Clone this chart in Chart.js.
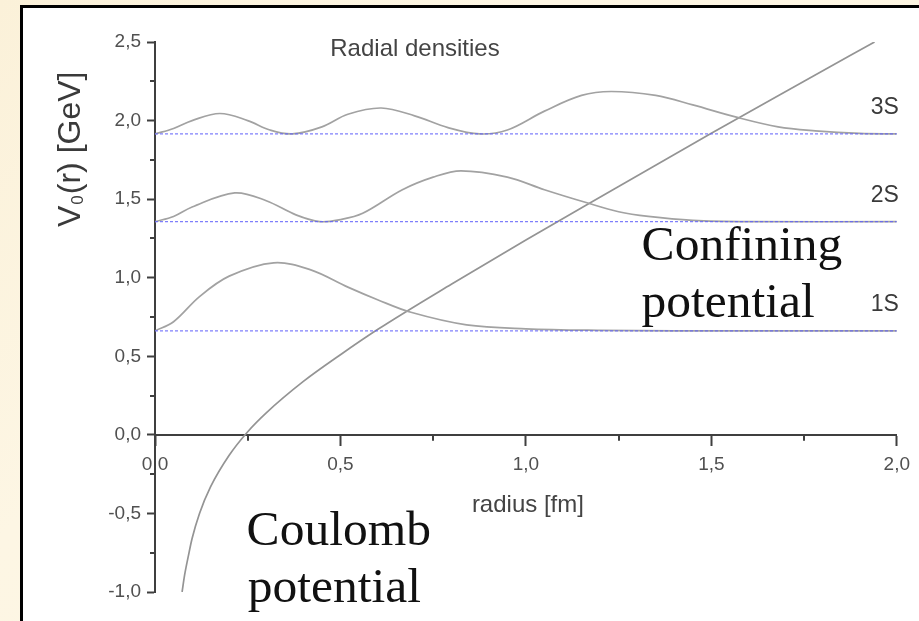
<!DOCTYPE html>
<html>
<head>
<meta charset="utf-8">
<script src="https://cdn.jsdelivr.net/npm/chart.js@4.4.0/dist/chart.umd.min.js"></script>
<style>
  html, body { margin: 0; padding: 0; width: 919px; height: 621px; overflow: hidden; }
  body { position: relative; background: linear-gradient(135deg, #fbf1d9 0%, #fdf6e4 35%, #fdf5e0 100%); }
  #panel { position: absolute; left: 20px; top: 5px; width: 1000px; height: 700px; background: #fff; border: 3px solid #000; }
  #chart { position: absolute; left: 0; top: 0; }
</style>
</head>
<body>
<div id="panel"></div>
<canvas id="chart" width="919" height="621"></canvas>
<script>
/* ================= Data ================= */

// potential V0(r), Coulomb + linear
const potR = [0.073, 0.08, 0.09, 0.10, 0.12, 0.15, 0.20, 0.25, 0.30, 0.40, 0.50, 0.60, 0.80, 1.00, 1.25, 1.50, 1.75, 1.94];
const potV = [-1.00, -0.89, -0.77, -0.66, -0.50, -0.33, -0.13, 0.02, 0.14, 0.34, 0.51, 0.67, 0.96, 1.24, 1.58, 1.92, 2.25, 2.50];

// radial densities, drawn on top of their level
const r1S = [0, 0.05, 0.12, 0.20, 0.32, 0.42, 0.52, 0.60, 0.69, 0.84, 1.00, 1.20, 1.40, 2.00];
const v1S = [0.662, 0.72, 0.88, 1.01, 1.095, 1.05, 0.94, 0.86, 0.78, 0.70, 0.675, 0.665, 0.662, 0.662];

const r2S = [0, 0.05, 0.10, 0.215, 0.30, 0.38, 0.444, 0.50, 0.56, 0.667, 0.75, 0.825, 0.95, 1.05, 1.16, 1.25, 1.33, 1.45, 1.60, 2.00];
const v2S = [1.357, 1.39, 1.45, 1.54, 1.49, 1.40, 1.357, 1.37, 1.41, 1.56, 1.64, 1.68, 1.64, 1.56, 1.48, 1.42, 1.39, 1.365, 1.357, 1.357];

const r3S = [0, 0.05, 0.10, 0.175, 0.25, 0.31, 0.37, 0.45, 0.52, 0.61, 0.70, 0.79, 0.875, 0.95, 1.05, 1.15, 1.23, 1.35, 1.45, 1.57, 1.68, 1.78, 1.90, 2.00];
const v3S = [1.915, 1.95, 2.00, 2.045, 2.00, 1.94, 1.915, 1.96, 2.04, 2.08, 2.03, 1.955, 1.915, 1.94, 2.06, 2.16, 2.185, 2.16, 2.10, 2.02, 1.96, 1.935, 1.918, 1.915];

// energy levels
const levelNames = ['1S', '2S', '3S'];
const levelValues = [0.662, 1.357, 1.915];

// axes
const xTicks = [0, 0.5, 1, 1.5, 2];
const xTickLabels = ['0,0', '0,5', '1,0', '1,5', '2,0'];
const xMinorTicks = [0.25, 0.75, 1.25, 1.75];
const yTicks = [-1, -0.5, 0, 0.5, 1, 1.5, 2, 2.5];
const yTickLabels = ['-1,0', '-0,5', '0,0', '0,5', '1,0', '1,5', '2,0', '2,5'];
const yMinorTicks = [-0.75, -0.25, 0.25, 0.75, 1.25, 1.75, 2.25];

/* ================= Chart ================= */

const axisColor = '#3f3f3f';
const labelColor = '#505050';
const sans = "'Liberation Sans', Arial, sans-serif";
const serif = "'Liberation Serif', 'Times New Roman', serif";

const pts = (xs, ys) => xs.map((x, i) => ({ x: x, y: ys[i] }));

const curveStyle = {
  borderColor: '#a2a2a2',
  borderWidth: 1.7,
  pointRadius: 0,
  fill: false,
  tension: 0.35
};

const levelSets = levelValues.map((v, i) => ({
  label: levelNames[i] + ' level',
  data: [{ x: xTicks[0], y: v }, { x: xTicks[xTicks.length - 1], y: v }],
  borderColor: 'rgba(95, 95, 250, 0.8)',
  borderWidth: 1.3,
  borderDash: [3, 2],
  pointRadius: 0
}));

const annotations = [
  { text: 'Confining', x: 1.312, y: 1.115 },
  { text: 'potential', x: 1.312, y: 0.752 },
  { text: 'Coulomb', x: 0.247, y: -0.70 },
  { text: 'potential', x: 0.250, y: -1.064 }
];

const decorations = {
  id: 'decorations',
  afterDraw(chart) {
    const { ctx, scales: { x, y } } = chart;
    ctx.save();

    // minor ticks
    ctx.strokeStyle = axisColor;
    ctx.lineWidth = 2;
    const y0 = y.getPixelForValue(0);
    xMinorTicks.forEach(v => {
      const px = Math.round(x.getPixelForValue(v));
      ctx.beginPath(); ctx.moveTo(px, y0); ctx.lineTo(px, y0 + 6); ctx.stroke();
    });
    const xLeft = x.getPixelForValue(0);
    yMinorTicks.forEach(v => {
      const py = Math.round(y.getPixelForValue(v));
      ctx.beginPath(); ctx.moveTo(xLeft, py); ctx.lineTo(xLeft - 5, py); ctx.stroke();
    });

    // y axis title with subscript
    ctx.fillStyle = '#3a3a3a';
    ctx.translate(80, 227);
    ctx.rotate(-Math.PI / 2);
    ctx.textBaseline = 'alphabetic';
    ctx.textAlign = 'left';
    ctx.font = '32px ' + sans;
    ctx.fillText('V', 0, 0);
    let w = ctx.measureText('V').width;
    ctx.font = '17px ' + sans;
    ctx.fillText('0', w + 1, 3);
    w += ctx.measureText('0').width + 2;
    ctx.font = '32px ' + sans;
    ctx.fillText('(r) [GeV]', w, 0);
    ctx.setTransform(1, 0, 0, 1, 0, 0);

    // x axis title
    ctx.font = '24px ' + sans;
    ctx.fillStyle = '#444';
    ctx.textAlign = 'center';
    ctx.textBaseline = 'middle';
    ctx.fillText('radius [fm]', (x.left + x.right) / 2 + 2, 505);

    // inner title
    ctx.fillText('Radial densities', 415, 49);

    // level names
    ctx.font = '23px ' + sans;
    ctx.fillStyle = '#3a3a3a';
    ctx.textAlign = 'right';
    levelValues.forEach((v, i) => {
      ctx.fillText(levelNames[i], x.getPixelForValue(2) + 2, y.getPixelForValue(v) - 26);
    });

    // serif annotations
    ctx.font = '49.5px ' + serif;
    ctx.fillStyle = '#111';
    ctx.textAlign = 'left';
    ctx.textBaseline = 'alphabetic';
    annotations.forEach(a => {
      ctx.fillText(a.text, x.getPixelForValue(a.x), y.getPixelForValue(a.y));
    });

    ctx.restore();
  }
};

new Chart(document.getElementById('chart'), {
  type: 'line',
  data: {
    datasets: [
      ...levelSets,
      { label: '1S', data: pts(r1S, v1S), ...curveStyle },
      { label: '2S', data: pts(r2S, v2S), ...curveStyle },
      { label: '3S', data: pts(r3S, v3S), ...curveStyle },
      { label: 'V0(r)', data: pts(potR, potV), ...curveStyle, borderColor: '#949494', cubicInterpolationMode: 'monotone' }
    ]
  },
  options: {
    responsive: false,
    animation: false,
    layout: { padding: { left: 20, right: 22, top: 42, bottom: 29 } },
    plugins: { legend: { display: false }, tooltip: { enabled: false } },
    scales: {
      x: {
        type: 'linear',
        min: 0,
        max: 2,
        position: { y: 0 },
        afterBuildTicks: s => { s.ticks = xTicks.map(v => ({ value: v })); },
        ticks: {
          callback: (v, i) => xTickLabels[i],
          font: { size: 19, family: sans },
          color: labelColor,
          padding: 9,
          maxRotation: 0,
          autoSkip: false
        },
        grid: { drawOnChartArea: false, drawTicks: true, tickLength: 10, tickColor: axisColor, tickWidth: 2 },
        border: { display: true, color: axisColor, width: 2 }
      },
      y: {
        type: 'linear',
        min: -1,
        max: 2.5,
        afterBuildTicks: s => { s.ticks = yTicks.map(v => ({ value: v })); },
        afterFit: s => { s.width = 135; },
        ticks: {
          callback: (v, i) => yTickLabels[i],
          font: { size: 19, family: sans },
          color: labelColor,
          padding: 6,
          autoSkip: false
        },
        grid: { drawOnChartArea: false, drawTicks: true, tickLength: 8, tickColor: axisColor, tickWidth: 2 },
        border: { display: true, color: axisColor, width: 2 }
      }
    }
  },
  plugins: [decorations]
});
</script>
</body>
</html>
